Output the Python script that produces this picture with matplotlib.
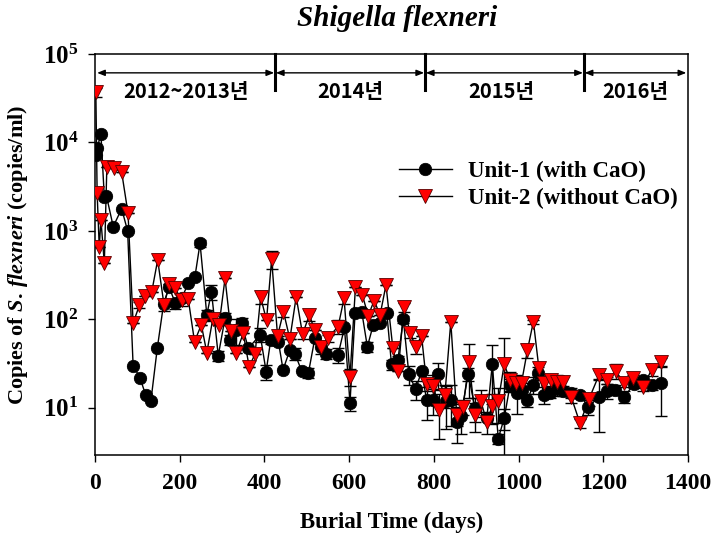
import math
import matplotlib
matplotlib.use("Agg")
import matplotlib.pyplot as plt
import matplotlib.transforms as mtransforms
from matplotlib.ticker import FixedLocator, NullLocator, FuncFormatter

plt.rcParams['mathtext.fontset'] = 'custom'
plt.rcParams['mathtext.rm'] = 'Liberation Serif:bold'
plt.rcParams['mathtext.it'] = 'Liberation Serif:italic:bold'
plt.rcParams['mathtext.bf'] = 'Liberation Serif:bold'

# ---------------- data ----------------
unit1_days = [2, 5, 14, 22, 27, 43, 63, 77, 90, 106, 120, 132, 147, 162, 175, 190, 205, 220, 236, 248,
              264, 275, 291, 307, 319, 332, 346, 362, 390, 404, 415, 433, 444, 460, 472, 488, 504, 519,
              533, 545, 574, 589, 602, 614, 630, 643, 657, 673, 689, 700, 715, 728, 741, 757, 771, 783,
              799, 810, 828, 840, 854, 864, 881, 897, 925, 938, 952, 966, 980, 996, 1007, 1021, 1035,
              1047, 1061, 1074, 1090, 1104, 1124, 1145, 1165, 1190, 1208, 1228, 1250, 1273, 1294, 1314, 1336]
unit1_vals = [7200, 8600, 12500, 2400, 2500, 1120, 1780, 1000, 30, 22, 13.8, 12, 47, 150, 230, 152, 175,
              255, 305, 725, 112, 206, 39, 103, 59, 76, 90, 47, 67, 25.7, 59, 56, 27, 45, 41, 26, 25, 61,
              49, 41, 40, 81, 11.3, 117, 120, 49, 87, 90, 117, 31, 35, 100, 24, 16.2, 26, 12.3, 12.3, 24,
              11.8, 12.3, 7, 8, 24.3, 10, 7.6, 31, 4.5, 7.6, 18.2, 14.6, 16, 12.3, 18.2, 24.6, 14, 14.9,
              16.7, 15.5, 14.9, 14, 10.2, 13.4, 15.7, 16, 13.4, 18.7, 20.4, 17.9, 19]
unit1_err = [0, 0, 0, 0, 0, 0, 0, 0, 0, 0, 0, 0, 0, 0, 0, 20, 0, 0, 0, 60,
             15, 40, 5, 15, 8, 25, 15, 0, 12, 5, 6, 0, 0, 0, 6, 0, 3, 0,
             8, 5, 8, 0, 2, 0, 0, 6, 0, 0, 0, 4, 4, 10, 6, 4, 0, 5,
             4, 8, 6, 6, 3, 3, 4, 3, 0, 20, 0.6, 2, 3, 6, 3, 2, 4,
             4, 3, 2, 3, 2, 2, 0, 2, 8, 3, 2, 2, 2, 2, 2, 11]

unit2_days = [2, 5, 10, 14, 22, 28, 45, 63, 78, 90, 105, 118, 134, 148, 163, 175, 189, 205, 220, 235,
              251, 264, 278, 293, 307, 321, 334, 350, 364, 378, 391, 405, 417, 431, 445, 460, 475, 490,
              506, 519, 534, 549, 574, 588, 602, 615, 631, 645, 659, 673, 687, 703, 716, 729, 744, 757,
              771, 783, 799, 812, 826, 840, 854, 869, 883, 897, 911, 925, 938, 952, 966, 980, 993, 1007,
              1021, 1035, 1048, 1061, 1076, 1090, 1104, 1124, 1145, 1166, 1190, 1209, 1229, 1250, 1271,
              1294, 1314, 1336]
unit2_vals = [37000, 2700, 660, 1330, 430, 5300, 5100, 4600, 1580, 91, 145, 185, 205, 470, 145, 250, 225,
              165, 172, 56, 87, 42, 101, 87, 290, 73, 42, 70, 29, 41, 178, 98, 480, 65, 122, 60, 180, 68,
              112, 75, 49, 61, 83, 173, 22.5, 235, 190, 110, 163, 112, 245, 48, 26, 137, 71, 49, 65, 18.5,
              17.7, 9.5, 14, 94, 8.3, 10.3, 33, 8.3, 11.8, 7, 10.5, 11.8, 31, 20.7, 19.3, 19.3, 45, 94.5,
              28, 19, 20.7, 19.8, 19.8, 13.4, 6.7, 12.5, 23.6, 20.4, 26, 19, 21.6, 17.4, 26.9, 33]
unit2_err = [4000, 0, 0, 0, 0, 0, 0, 0, 0, 0, 12, 0, 0, 0, 20, 0, 0, 25, 0, 0,
             0, 0, 0, 0, 0, 0, 0, 0, 0, 0, 30, 0, 110, 0, 15, 0, 0, 8,
             15, 0, 0, 5, 15, 25, 5, 0, 0, 0, 0, 0, 0, 0, 0, 15, 10, 8,
             0, 3, 6, 5, 4, 0, 2, 2, 20, 3, 4, 2, 4, 5, 30, 5, 4, 3,
             8, 5, 4, 4, 3, 4, 3, 2, 0.8, 2, 3, 2, 5, 2, 2, 2, 4, 4]

period_bounds = [3, 425, 779, 1154, 1398]
period_labels = ['2012~2013년', '2014년', '2015년', '2016년']
period_label_x = [214, 602, 960, 1275]

x_ticks = [0, 200, 400, 600, 800, 1000, 1200, 1400]
y_ticks = [1e1, 1e2, 1e3, 1e4, 1e5]

# ---------------- figure ----------------
fig = plt.figure(figsize=(7.22, 5.39), dpi=100)
ax = fig.add_axes([95 / 722, 1 - 455 / 539, 593 / 722, 401 / 539])

ax.errorbar(unit1_days, unit1_vals, yerr=unit1_err, fmt='none', ecolor='black',
            elinewidth=1, capsize=4, capthick=1, zorder=2)
ax.errorbar(unit2_days, unit2_vals, yerr=unit2_err, fmt='none', ecolor='black',
            elinewidth=1, capsize=4, capthick=1, zorder=2)
ax.plot(unit1_days, unit1_vals, '-', color='black', lw=1, marker='o', ms=9,
        mfc='black', mec='black', mew=0.5, label='Unit-1 (with CaO)', zorder=3)
ax.plot(unit2_days, unit2_vals, '-', color='black', lw=1, marker='v', ms=10,
        mfc='#ff0000', mec='#5a0000', mew=0.6, label='Unit-2 (without CaO)', zorder=4)

ax.set_yscale('log')
ax.set_xlim(0, 1400)
ax.set_ylim(2.93, 1e5)
ax.xaxis.set_major_locator(FixedLocator(x_ticks))
ax.yaxis.set_major_locator(FixedLocator(y_ticks))
ax.yaxis.set_minor_locator(NullLocator())
ax.xaxis.set_minor_locator(NullLocator())
ax.yaxis.set_major_formatter(FuncFormatter(lambda v, p: r'$10^{%d}$' % round(math.log10(v))))
ax.tick_params(direction='out', length=5, width=1, top=False, right=False)
ax.tick_params(axis='x', pad=8)
ax.tick_params(axis='y', pad=7)
for lab in ax.get_xticklabels():
    lab.set_fontfamily('Liberation Serif')
    lab.set_fontweight('bold')
    lab.set_fontsize(17)
for lab in ax.get_yticklabels():
    lab.set_fontsize(18)
for sp in ax.spines.values():
    sp.set_linewidth(1.1)

ax.set_xlabel('Burial Time (days)', fontfamily='Liberation Serif', fontweight='bold', fontsize=16.5,
              va='center')
ax.xaxis.set_label_coords(0.5, -0.167)
ax.set_ylabel(r'Copies of $\mathit{S.\,flexneri}$ (copies/ml)', fontfamily='Liberation Serif',
              fontweight='bold', fontsize=16, va='center')
ax.yaxis.set_label_coords(-0.13, 0.5)

fig.text(397 / 722, 1 - 18 / 539, 'Shigella flexneri', ha='center', va='center',
         fontfamily='Liberation Serif', fontweight='bold', fontstyle='italic', fontsize=21)

# period annotations
trans = mtransforms.blended_transform_factory(ax.transData, ax.transAxes)
for b in period_bounds[1:-1]:
    ax.plot([b, b], [1.0, 0.91], color='black', lw=2.2, transform=trans, clip_on=False, zorder=5)
for i in range(len(period_labels)):
    a, b = period_bounds[i], period_bounds[i + 1]
    ax.annotate('', xy=(b - 2, 0.953), xytext=(a + 2, 0.953), xycoords=trans, textcoords=trans,
                arrowprops=dict(arrowstyle='<|-|>,head_length=0.45,head_width=0.18', lw=1,
                                color='black', shrinkA=0, shrinkB=0))
    ax.text(period_label_x[i], 0.906, period_labels[i], transform=trans, ha='center', va='center',
            fontfamily=['Noto Sans CJK KR', 'DejaVu Sans'], fontweight='bold', fontsize=14.5)

leg = ax.legend(loc='upper left', bbox_to_anchor=(399 / 722, 1 - 161 / 539),
                bbox_transform=fig.transFigure, frameon=False, borderpad=0, borderaxespad=0,
                handlelength=2.3, handletextpad=0.7, labelspacing=0.25, numpoints=1,
                prop={'family': 'Liberation Serif', 'weight': 'bold', 'size': 16.5})

fig.savefig('out.png', dpi=100)
